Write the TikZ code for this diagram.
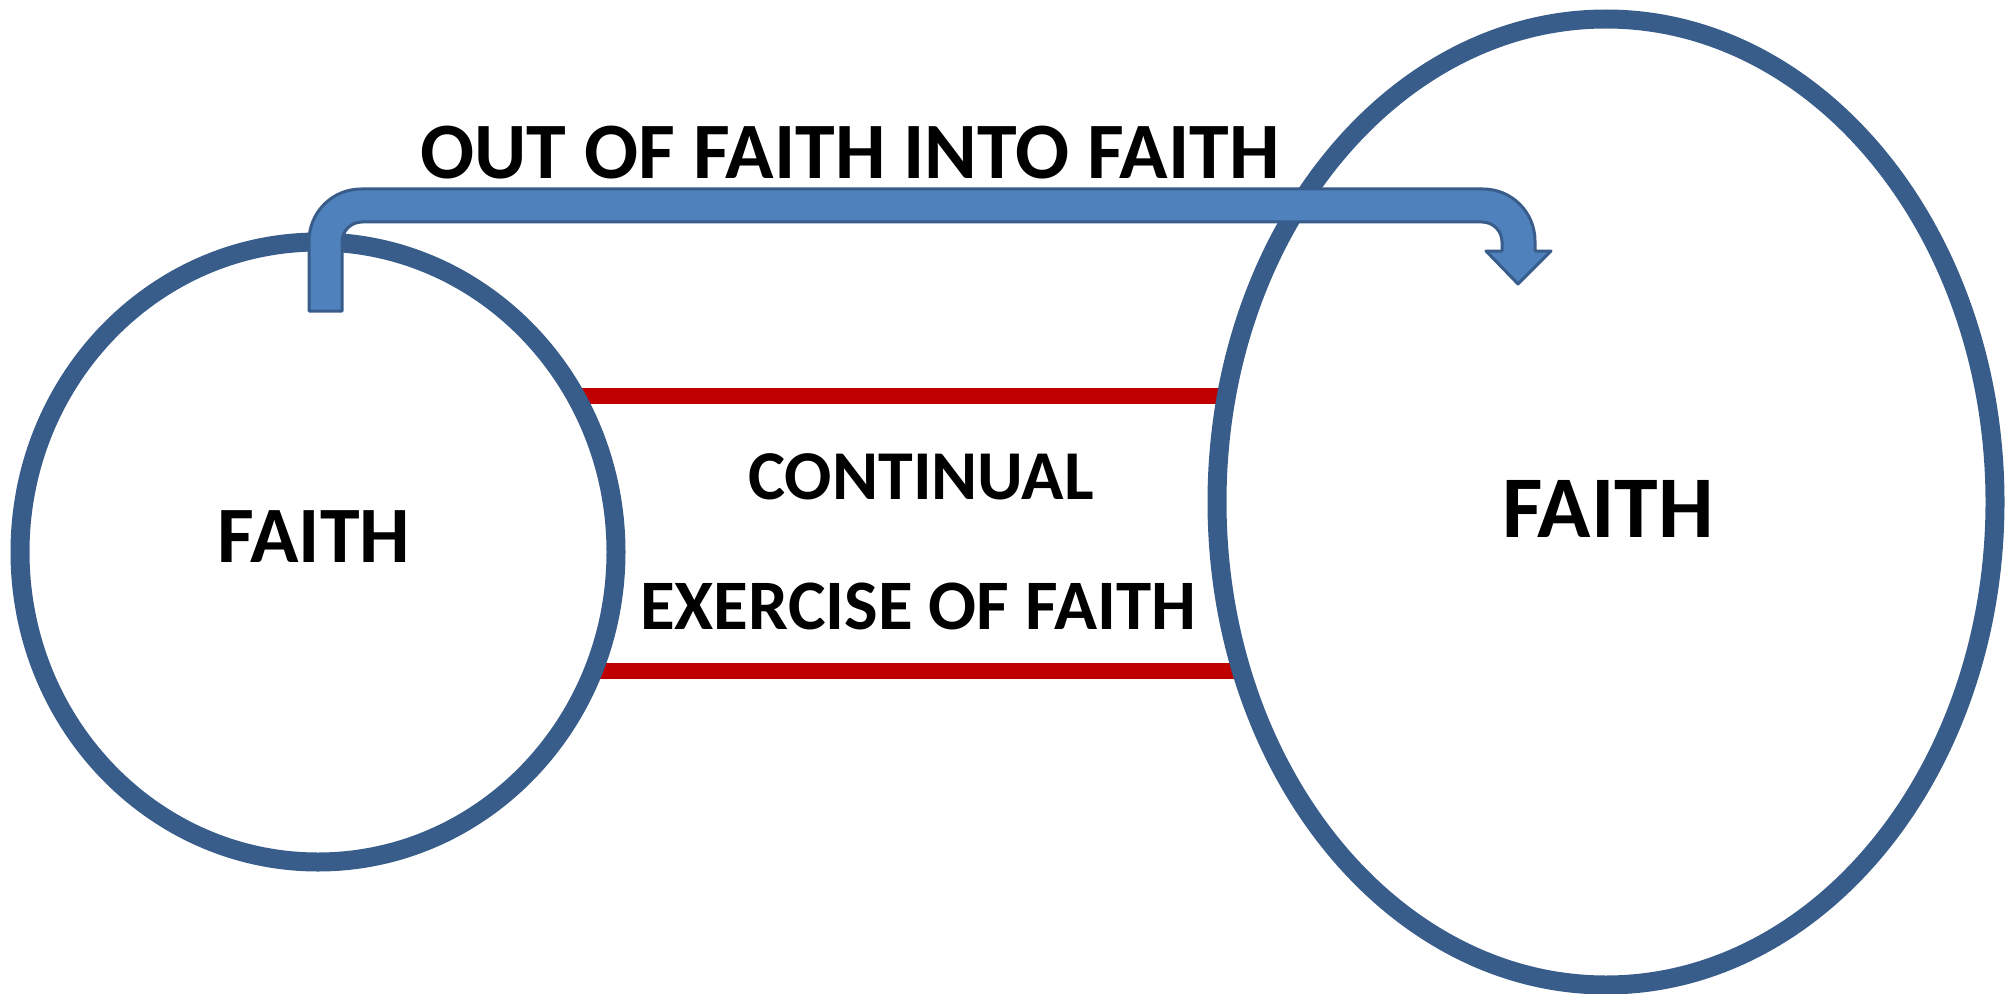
\documentclass[tikz,border=0pt]{standalone}
\usepackage{fontspec}
\setmainfont{Carlito}
\usepackage{tikz}
\definecolor{ringblue}{RGB}{56,93,138}
\definecolor{arrowblue}{RGB}{79,129,189}
\definecolor{barred}{RGB}{192,0,0}

\begin{document}
\begin{tikzpicture}[x=0.5pt,y=0.5pt,
    ring/.style={draw=ringblue,line width=9.5pt,fill=white},
    bar/.style={draw=barred,line width=8pt},
    bentarrow/.style={fill=arrowblue,draw=ringblue,line width=1.5pt,line join=round},
    word/.style={inner sep=0pt,font=\bfseries\fontsize{#1}{#1}\selectfont}]
          \useasboundingbox (0,0) rectangle (2013,993);
          % red bars between the two rings
          \draw[bar] (560,597) -- (1245,597);
          \draw[bar] (570,322) -- (1260,322);
          % left ring
          \draw[ring] (318,441) ellipse [x radius=298, y radius=310];
          % right ring
          \draw[ring] (1606,491) ellipse [x radius=389, y radius=483];
          % labels
          \node[word=40] (faithL) at (314,456) {FAITH};
          \node[word=44] (faithR) at (1608,484) {FAITH};
          \node[word=35] (continual) at (921,516) {CONTINUAL};
          \node[word=35.5] (exercise) at (918,387) {EXERCISE OF FAITH};
          \node[word=40] (title) at (850,840) {OUT OF FAITH INTO FAITH};
          % bent arrow from left ring into right ring
          \draw[bentarrow] (309,682) -- (309,752) arc [start angle=180, end angle=90, radius=52]
            -- (1483,804) arc [start angle=90, end angle=0, radius=52]
            -- (1535,742) -- (1551,742) -- (1518,709) -- (1486,742) -- (1502,742)
            -- (1502,751) arc [start angle=0, end angle=90, radius=20]
            -- (362,771) arc [start angle=90, end angle=180, radius=20]
            -- (342,682) -- cycle;
        \end{tikzpicture}
\end{document}
